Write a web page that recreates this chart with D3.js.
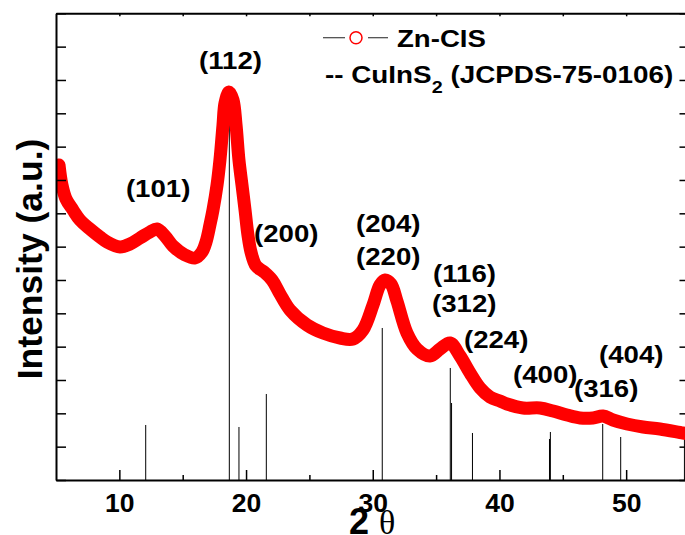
<!DOCTYPE html>
<html><head><meta charset="utf-8">
<script src="https://cdn.jsdelivr.net/npm/d3@7"></script>
<style>body{margin:0;background:#fff} svg{display:block}</style>
</head><body><svg id="c" width="685" height="535"></svg>
<script>
// ---- data ----
const twoTheta = [5.24,5.47,5.79,6.34,6.89,7.68,8.47,9.03,10.05,10.84,11.63,12.42,12.97,13.60,14.23,15.18,15.97,16.52,16.84,17.15,17.39,17.71,17.94,18.18,18.34,18.65,18.97,19.21,19.44,19.68,19.92,20.15,20.39,20.79,21.42,22.05,22.68,23.47,24.81,26.07,27.42,28.44,29.23,30.02,30.57,30.97,31.44,31.91,32.70,33.49,34.52,35.31,36.10,36.89,37.68,38.47,39.25,40.04,40.60,41.86,43.20,44.23,45.33,46.36,47.38,48.17,48.96,50.07,51.33,52.67,54.49,55.0];
const intensity = [9.45,8.85,8.43,8.10,7.80,7.53,7.29,7.14,6.99,7.08,7.26,7.44,7.53,7.32,7.02,6.75,6.66,6.84,7.14,7.65,8.10,8.85,9.60,10.65,11.31,11.64,11.40,10.65,9.60,8.85,8.10,7.35,6.84,6.42,6.24,6.00,5.58,5.10,4.65,4.41,4.26,4.23,4.50,5.25,5.85,6.00,5.88,5.37,4.41,3.93,3.72,3.93,4.11,3.72,3.21,2.76,2.49,2.37,2.28,2.16,2.16,2.07,1.95,1.86,1.86,1.92,1.80,1.68,1.59,1.53,1.41,1.38];
const refPos = [12.08,18.68,19.44,21.60,30.75,36.12,36.22,37.87,43.95,44.02,48.15,49.57,54.60];
const refInt = [1.65,11.01,1.59,2.58,4.56,3.36,2.31,1.41,1.23,1.44,1.68,1.29,1.50];
const hklText = ["(101)","(112)","(200)","(204)","(220)","(116)","(312)","(224)","(400)","(316)","(404)"];
const hklX = [10.52,16.29,20.63,28.68,28.68,34.76,34.68,37.20,41.07,45.88,47.86];
const hklY = [8.49,12.33,7.14,7.44,6.45,5.94,5.04,3.96,2.91,2.49,3.51];
const xMajorTicks = [10,20,30,40,50];
const xMinorTicks = [15,25,35,45,55];
const xTopTicks = [10,15,20,25,30,35,40,45,50];
const yTicks = d3.range(0,15);
const seriesName = "Zn-CIS";
const refName = ["-- CuInS","2"," (JCPDS-75-0106)"];

// ---- layout ----
const svg = d3.select('#c');
const L=56, R=689.5, T=13.3, B=480;
const x = d3.scaleLinear().domain([5,55]).range([L,R]);
const y = d3.scaleLinear().domain([0,14]).range([B,T]);
const sans = "'Liberation Sans', Arial, Helvetica, sans-serif";

svg.append('defs').append('clipPath').attr('id','clip')
  .append('rect').attr('x',L).attr('y',T).attr('width',R-L).attr('height',B-T);

// reference sticks
svg.append('g').selectAll('line').data(refPos).join('line')
  .attr('x1',d=>x(d)).attr('x2',d=>x(d))
  .attr('y1',y(0)).attr('y2',(d,i)=>y(refInt[i]))
  .attr('stroke','#000').attr('stroke-width',1);

// curve
const pts = twoTheta.map((t,i)=>[t,intensity[i]]);
const line = d3.line().x(d=>x(d[0])).y(d=>y(d[1])).curve(d3.curveCatmullRom.alpha(0.5));
svg.append('path').attr('d',line(pts)).attr('clip-path','url(#clip)')
  .attr('fill','none').attr('stroke','#ff0000').attr('stroke-width',13)
  .attr('stroke-linecap','round').attr('stroke-linejoin','round');

// axes
function styleAxis(g){
  g.select('.domain').attr('stroke','#000').attr('stroke-width',2);
  g.selectAll('.tick line').attr('stroke','#000').attr('stroke-width',1.5);
}
const gb = svg.append('g').attr('transform',`translate(0,${B})`)
  .call(d3.axisBottom(x).tickValues(xMajorTicks).tickSizeInner(-10).tickSizeOuter(0).tickPadding(13).tickFormat(d3.format('d')));
styleAxis(gb);
gb.selectAll('text').attr('font-family',sans).attr('font-weight','bold').attr('font-size',26.5).attr('fill','#000');
const gbm = svg.append('g').attr('transform',`translate(0,${B})`)
  .call(d3.axisBottom(x).tickValues(xMinorTicks).tickSize(-5).tickFormat(''));
styleAxis(gbm); gbm.select('.domain').remove();
const gt = svg.append('g').attr('transform',`translate(0,${T})`)
  .call(d3.axisTop(x).tickValues(xTopTicks).tickSize(-3).tickSizeOuter(0).tickFormat(''));
styleAxis(gt);
const gl = svg.append('g').attr('transform',`translate(${L},0)`)
  .call(d3.axisLeft(y).tickValues(yTicks).tickSize(-10).tickSizeOuter(0).tickFormat(''));
styleAxis(gl);
const gr = svg.append('g').attr('transform',`translate(${R},0)`)
  .call(d3.axisRight(y).tickValues(yTicks).tickSize(-10).tickSizeOuter(0).tickFormat(''));
styleAxis(gr);

// hkl labels
svg.append('g').selectAll('text').data(hklText).join('text')
  .attr('transform',(d,i)=>`translate(${x(hklX[i])},${y(hklY[i])}) scale(1.2,1)`)
  .attr('font-family',sans).attr('font-weight','bold').attr('font-size',23).attr('fill','#000')
  .text(d=>d);

// axis titles
svg.append('text').attr('transform','translate(42,259) rotate(-90)')
  .attr('text-anchor','middle').attr('font-family',sans).attr('font-weight','bold')
  .attr('font-size',35.5).attr('fill','#000').text('Intensity (a.u.)');
const xt = svg.append('text').attr('x',349).attr('y',534).attr('fill','#000');
xt.append('tspan').attr('font-family',sans).attr('font-weight','bold').attr('font-size',36).text('2 ');
xt.append('tspan').attr('font-family',"'Liberation Serif','DejaVu Serif',serif").attr('font-size',34).text('θ');

// legend
const lg = svg.append('g');
lg.append('line').attr('x1',323).attr('x2',345).attr('y1',37.7).attr('y2',37.7).attr('stroke','#444').attr('stroke-width',1.2);
lg.append('line').attr('x1',368).attr('x2',388).attr('y1',37.7).attr('y2',37.7).attr('stroke','#444').attr('stroke-width',1.2);
lg.append('circle').attr('cx',356).attr('cy',37.7).attr('r',6).attr('fill','#fff').attr('stroke','#ff0000').attr('stroke-width',1.5);
lg.append('text').attr('transform','translate(397,47) scale(1.15,1)')
  .attr('font-family',sans).attr('font-weight','bold').attr('font-size',24).attr('fill','#000').text(seriesName);
const t2 = lg.append('text').attr('transform','translate(325,83) scale(1.16,1)')
  .attr('font-family',sans).attr('font-weight','bold').attr('font-size',24).attr('fill','#000');
t2.append('tspan').text(refName[0]);
t2.append('tspan').attr('font-size',17).attr('dy',10).text(refName[1]);
t2.append('tspan').attr('dy',-10).text(refName[2]);
</script></body></html>
